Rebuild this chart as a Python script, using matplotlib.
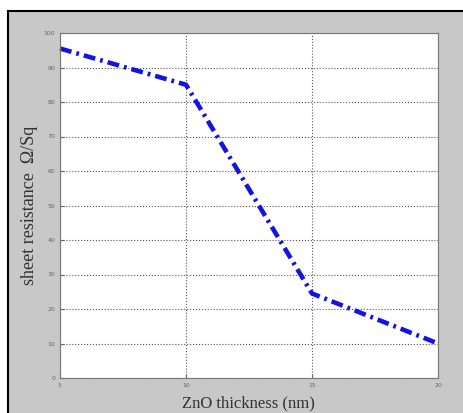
import matplotlib.pyplot as plt
from matplotlib.patches import Rectangle

# espessura do ZnO (nm) e resistencia de folha (ohm/sq)
thickness = [5, 10, 15, 20]
sheet_res = [95.5, 85, 24.5, 10]

xticks = [5, 10, 15, 20]
yticks = list(range(0, 101, 10))

fig = plt.figure(figsize=(4.63, 4.13), dpi=100)
fig.patch.set_facecolor('white')

# fundo cinza com moldura preta (so esquerda e topo aparecem)
W, H = 463, 413
x0, y0 = 8 / W, 1 - 11 / H
fig.patches.append(Rectangle((x0, 0), 1 - x0, y0, transform=fig.transFigure,
                             facecolor='#c8c8c8', edgecolor='none', zorder=-10))
fig.lines.append(plt.Line2D([x0, x0], [0, y0], transform=fig.transFigure, color='black', lw=1.5, zorder=-5))
fig.lines.append(plt.Line2D([x0, 1], [y0, y0], transform=fig.transFigure, color='black', lw=1.5, zorder=-5))

ax = fig.add_axes([60 / W, 1 - 378 / H, (438 - 60) / W, (378 - 33) / H])
ax.set_zorder(5)
ax.set_facecolor('white')
ax.plot(thickness, sheet_res, color='#1414e0', linestyle='-.', linewidth=3.3,
        dashes=(2.6, 1.1, 0.6, 1.1), dash_capstyle='butt', clip_on=False)

ax.set_xlim(5, 20)
ax.set_ylim(0, 100)
ax.set_xticks(xticks)
ax.set_yticks(yticks)
ax.tick_params(labelsize=4.5, colors='#666666', length=3, direction='in')
ax.grid(True, linestyle=':', color='#555555', linewidth=0.8)
for s in ax.spines.values():
    s.set_color('#777777')

ax.set_xlabel('ZnO thickness (nm)', family='Liberation Serif', fontsize=12, color='#333333')
ax.set_ylabel('sheet resistance  \u03a9/Sq', family='Liberation Serif', fontsize=13, color='#333333')
# posicao dos rotulos em pixels da figura
ax.xaxis.set_label_coords(((182 + 315) / 2 - 60) / (438 - 60), -(403 - 378) / (378 - 33))
ax.xaxis.label.set_va('center')
ax.yaxis.set_label_coords(-(60 - 30) / (438 - 60), (378 - 205) / (378 - 33))
ax.yaxis.label.set_va('center')

fig.savefig('out.png', dpi=100)
